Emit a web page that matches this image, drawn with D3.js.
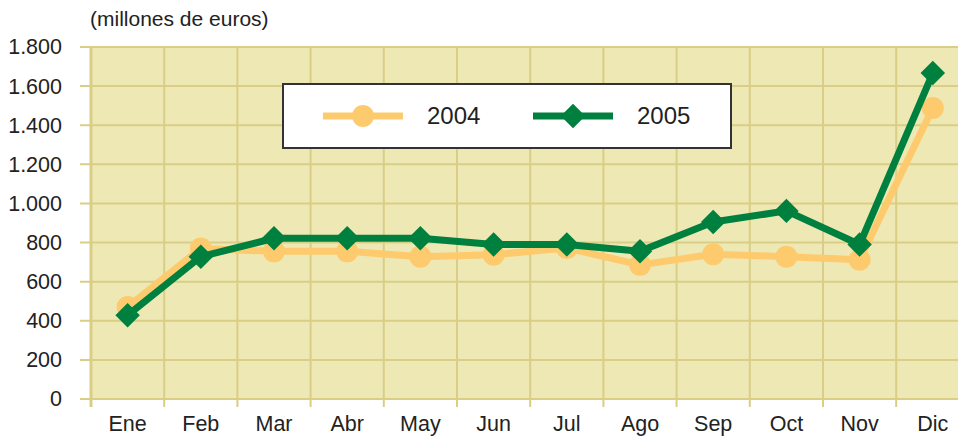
<!DOCTYPE html>
<html>
<head>
<meta charset="utf-8">
<script src="https://cdn.jsdelivr.net/npm/d3@7"></script>
<style>
  body { margin: 0; background: #fff; }
  text { font-family: "Liberation Sans", Arial, sans-serif; fill: #222; }
</style>
</head>
<body>
<div id="chart"></div>
<script>
// Data
const months = ["Ene", "Feb", "Mar", "Abr", "May", "Jun", "Jul", "Ago", "Sep", "Oct", "Nov", "Dic"];
const values2004 = [470, 770, 755, 755, 728, 738, 772, 686, 740, 728, 712, 1488];
const values2005 = [428, 728, 822, 822, 822, 790, 790, 755, 905, 962, 790, 1667];
const yTicks = [0, 200, 400, 600, 800, 1000, 1200, 1400, 1600, 1800];
const seriesNames = ["2004", "2005"];

const W = 958, H = 439;
const plotLeft = 91, plotTop = 47, plotBottom = 399, step = 73.2;

const svg = d3.select("#chart").append("svg")
  .attr("width", W)
  .attr("height", H);

const x = d3.scaleBand()
  .domain(months)
  .range([plotLeft, plotLeft + step * months.length])
  .padding(0);

const y = d3.scaleLinear()
  .domain([0, 1800])
  .range([plotBottom, plotTop]);

const es = d3.formatLocale({ decimal: ",", thousands: ".", grouping: [3], currency: ["", "€"] });
const fmt = es.format(",");

const gridColor = "#d9ce86";

// Plot background
svg.append("rect")
  .attr("x", plotLeft)
  .attr("y", plotTop)
  .attr("width", x.range()[1] - plotLeft)
  .attr("height", plotBottom - plotTop)
  .attr("fill", "#eee8b5");

// Horizontal grid lines (with outer ticks)
svg.append("g")
  .selectAll("line")
  .data(yTicks)
  .join("line")
  .attr("x1", plotLeft - 11)
  .attr("x2", x.range()[1])
  .attr("y1", d => y(d))
  .attr("y2", d => y(d))
  .attr("stroke", gridColor)
  .attr("stroke-width", 2);

// Vertical grid lines at category boundaries
svg.append("g")
  .selectAll("line")
  .data(months)
  .join("line")
  .attr("x1", d => x(d))
  .attr("x2", d => x(d))
  .attr("y1", plotTop)
  .attr("y2", plotBottom + 8)
  .attr("stroke", gridColor)
  .attr("stroke-width", (d, i) => i === 0 ? 3 : 2);

// Y axis labels
const yAxisG = svg.append("g")
  .attr("transform", `translate(${plotLeft},0)`)
  .call(d3.axisLeft(y).tickValues(yTicks).tickFormat(fmt).tickSize(11).tickPadding(18));
yAxisG.select(".domain").remove();
yAxisG.selectAll("line").remove();
yAxisG.selectAll("text")
  .style("font-size", "21.5px")
  .attr("fill", "#222");

// X axis labels
const xAxisG = svg.append("g")
  .attr("transform", `translate(0,${plotBottom})`)
  .call(d3.axisBottom(x).tickSize(0).tickPadding(17));
xAxisG.select(".domain").remove();
xAxisG.selectAll("text")
  .style("font-size", "21.5px")
  .attr("fill", "#222");

// Title
svg.append("text")
  .attr("x", 90)
  .attr("y", 26)
  .style("font-size", "21px")
  .text("(millones de euros)");

const orange = "#fdcb6e";
const green = "#00803f";

const line = d3.line()
  .x((d, i) => x(months[i]) + x.bandwidth() / 2)
  .y(d => y(d));

// 2004 series
svg.append("path")
  .datum(values2004)
  .attr("d", line)
  .attr("fill", "none")
  .attr("stroke", orange)
  .attr("stroke-width", 7)
  .attr("stroke-linejoin", "round");

svg.append("g")
  .selectAll("circle")
  .data(values2004)
  .join("circle")
  .attr("cx", (d, i) => x(months[i]) + x.bandwidth() / 2)
  .attr("cy", d => y(d))
  .attr("r", 11)
  .attr("fill", orange);

// 2005 series
svg.append("path")
  .datum(values2005)
  .attr("d", line)
  .attr("fill", "none")
  .attr("stroke", green)
  .attr("stroke-width", 7)
  .attr("stroke-linejoin", "round");

const diamond = d3.symbol().type(d3.symbolSquare).size(300);

svg.append("g")
  .selectAll("path")
  .data(values2005)
  .join("path")
  .attr("d", diamond)
  .attr("transform", (d, i) => `translate(${x(months[i]) + x.bandwidth() / 2},${y(d)}) rotate(45)`)
  .attr("fill", green);

// Legend
const legend = svg.append("g");
legend.append("rect")
  .attr("x", 283)
  .attr("y", 84)
  .attr("width", 448)
  .attr("height", 64)
  .attr("fill", "#fff")
  .attr("stroke", "#333")
  .attr("stroke-width", 2);

const legendItems = [
  { name: seriesNames[0], color: orange, x0: 323, shape: "circle" },
  { name: seriesNames[1], color: green, x0: 533, shape: "diamond" }
];

legendItems.forEach(it => {
  legend.append("line")
    .attr("x1", it.x0)
    .attr("x2", it.x0 + 80)
    .attr("y1", 116)
    .attr("y2", 116)
    .attr("stroke", it.color)
    .attr("stroke-width", 7);
  if (it.shape === "circle") {
    legend.append("circle")
      .attr("cx", it.x0 + 40)
      .attr("cy", 116)
      .attr("r", 11)
      .attr("fill", it.color);
  } else {
    legend.append("path")
      .attr("d", diamond)
      .attr("transform", `translate(${it.x0 + 40},116) rotate(45)`)
      .attr("fill", it.color);
  }
  legend.append("text")
    .attr("x", it.x0 + 104)
    .attr("y", 124)
    .style("font-size", "24px")
    .text(it.name);
});
</script>
</body>
</html>
